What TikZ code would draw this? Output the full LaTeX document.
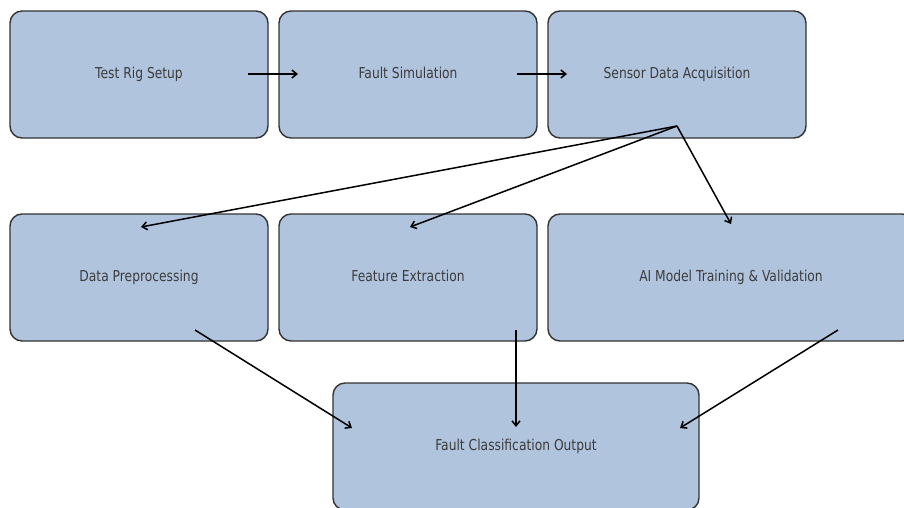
\documentclass[tikz,border=0pt]{standalone}
\usepackage{fontspec}
\setmainfont{DejaVu Sans}
\usetikzlibrary{arrows.meta}
\definecolor{boxfill}{HTML}{B0C4DE}
\definecolor{boxline}{HTML}{333333}
\definecolor{txt}{HTML}{3C3C3C}
\newcommand{\squashtext}[1]{\scalebox{0.82}[1]{#1}}
\begin{document}
\begin{tikzpicture}[x=1pt,y=-1pt,
  stagebox/.style={draw=boxline,fill=boxfill,line width=1.4pt,rounded corners=12pt,
    minimum width=258pt,minimum height=127pt,inner sep=0pt,
    text height=11pt,text depth=3.5pt,
    font=\fontsize{15}{18}\selectfont,text=txt},
  widebox/.style={stagebox,minimum width=366pt},
  arr/.style={line width=1.5pt,-{Straight Barb[length=5pt,width=8pt,line width=1.5pt]}}]
\useasboundingbox (0,0) rectangle (904,508);
\node[stagebox] (rig) at (139,74.5) {\squashtext{Test Rig Setup}};
\node[stagebox] (sim) at (408,74.5) {\squashtext{Fault Simulation}};
\node[stagebox] (daq) at (677,74.5) {\squashtext{Sensor Data Acquisition}};
\node[stagebox] (pre) at (139,277.5) {\squashtext{Data Preprocessing}};
\node[stagebox] (feat) at (408,277.5) {\squashtext{Feature Extraction}};
\node[widebox] (ai) at (731,277.5) {\squashtext{AI Model Training \& Validation}};
\node[widebox] (out) at (516,446.5) {\squashtext{Fault Classification Output}};
% arrow anchor points inside boxes
\coordinate (rigR) at (248,74);
\coordinate (simL) at (298,74);
\coordinate (simR) at (517,74);
\coordinate (daqL) at (567,74);
\coordinate (daqB) at (677,126);
\coordinate (preT) at (141,227);
\coordinate (featT) at (410,227);
\coordinate (aiT) at (731,224);
\coordinate (preB) at (195,330);
\coordinate (featB) at (516,330);
\coordinate (aiB) at (838,330);
\coordinate (outL) at (352,428);
\coordinate (outT) at (516,427);
\coordinate (outR) at (680,428);
\draw[arr] (rigR) -- (simL);
\draw[arr] (simR) -- (daqL);
\draw[arr] (daqB) -- (preT);
\draw[arr] (daqB) -- (featT);
\draw[arr] (daqB) -- (aiT);
\draw[arr] (preB) -- (outL);
\draw[arr] (featB) -- (outT);
\draw[arr] (aiB) -- (outR);
\end{tikzpicture}
\end{document}
